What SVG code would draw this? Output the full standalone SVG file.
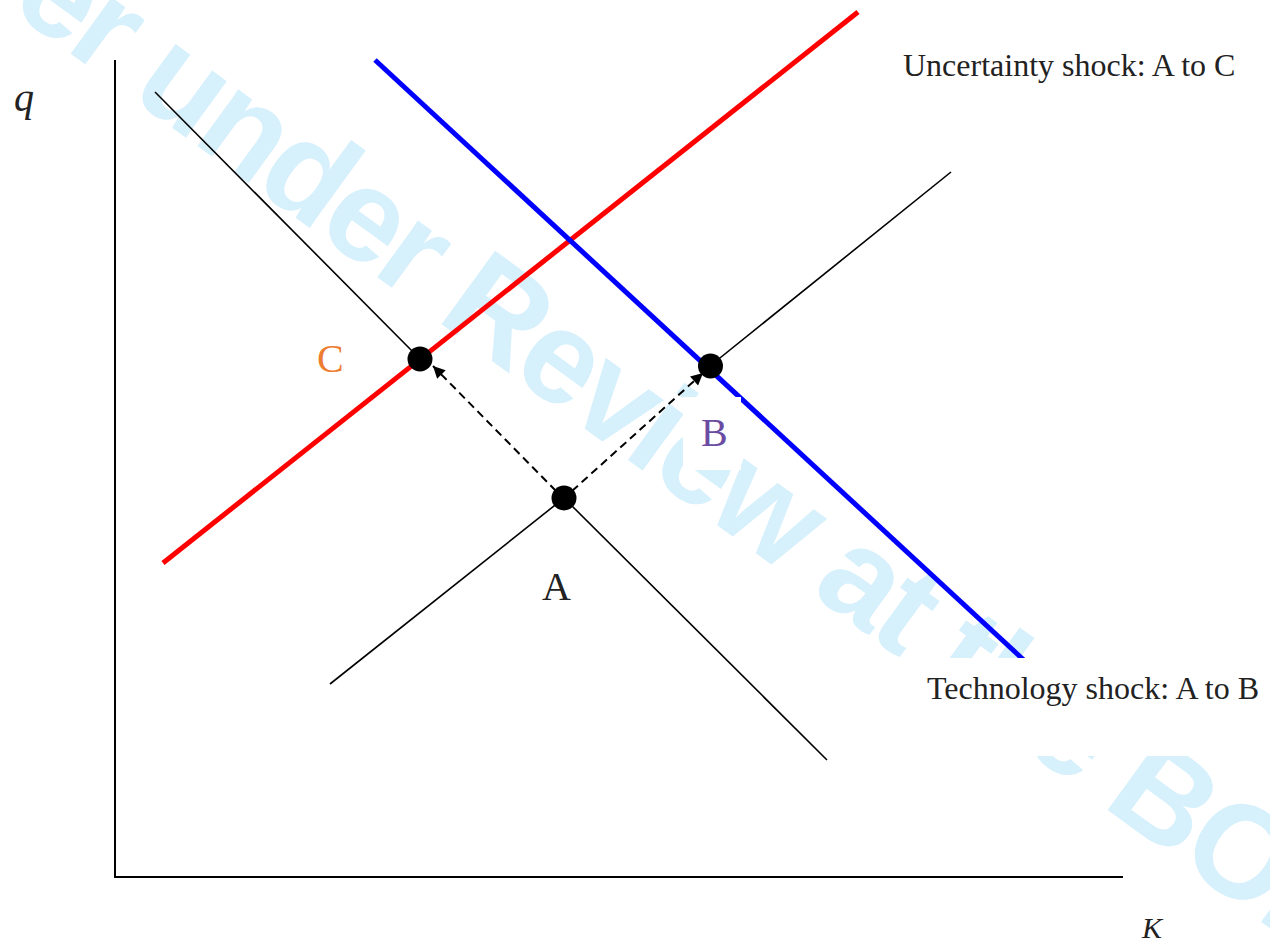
<svg xmlns="http://www.w3.org/2000/svg" width="1270" height="945" viewBox="0 0 1270 945">
<style>
.wm{font-family:"Liberation Sans",Arial,sans-serif;font-weight:bold;font-size:132px;letter-spacing:-4px;fill:#d6f0fc}
.lbl{font-family:"Liberation Serif","Times New Roman",serif;fill:#222}
.ax{stroke:#000;stroke-width:2;fill:none}
.thin{stroke:#000;stroke-width:1.6;fill:none}
.dash{stroke:#000;stroke-width:2;stroke-dasharray:8 5;fill:none}
.dot{fill:#000}
.mask{fill:#fff}
</style>
<defs>
<marker id="ah" viewBox="0 0 10 10" refX="10" refY="5" markerWidth="14" markerHeight="12" markerUnits="userSpaceOnUse" orient="auto">
<path d="M0,0 L10,5 L0,10 z" fill="#000"/>
</marker>
</defs>
<rect width="1270" height="945" fill="#fff"/>
<text class="wm" transform="translate(7.2,7.4) rotate(36.1)">er under Review at the BOE</text>
<g id="axes">
<line class="ax" x1="115" y1="60" x2="115" y2="877"/>
<line class="ax" x1="114" y1="877" x2="1123" y2="877"/>
</g>
<g id="curves">
<line class="thin" x1="155" y1="92" x2="420" y2="359"/>
<line class="thin" x1="564" y1="498" x2="827" y2="760"/>
<line class="thin" x1="330" y1="684" x2="564" y2="498"/>
<line class="thin" x1="710" y1="366" x2="951" y2="172"/>
<line stroke="#ff0000" stroke-width="5" x1="163" y1="563" x2="858" y2="12"/>
<line stroke="#0000ff" stroke-width="5" x1="375" y1="60" x2="1040" y2="675"/>
</g>
<g id="connectors">
<line class="dash" x1="556" y1="491" x2="433" y2="366" marker-end="url(#ah)"/>
<line class="dash" x1="572" y1="491" x2="703" y2="373" marker-end="url(#ah)"/>
</g>
<g id="node-C"><circle class="dot" cx="420" cy="359" r="12.5"/></g>
<g id="node-B"><circle class="dot" cx="710.5" cy="366" r="12.5"/></g>
<g id="node-A"><circle class="dot" cx="564" cy="498" r="12.5"/></g>
<g id="labels">
<rect class="mask" x="683" y="397" width="58" height="73"/>
<rect class="mask" x="900" y="658" width="370" height="98"/>
<text class="lbl" x="317" y="372" font-size="40" style="fill:#ed7d31">C</text>
<text class="lbl" x="701" y="446" font-size="40" style="fill:#6a4ca2">B</text>
<text class="lbl" x="542" y="600" font-size="40">A</text>
<text class="lbl" x="903" y="76" font-size="32">Uncertainty shock: A to C</text>
<text class="lbl" x="927" y="699" font-size="32">Technology shock: A to B</text>
<text class="lbl" x="14" y="111" font-size="40" font-style="italic">q</text>
<text class="lbl" x="1142" y="938" font-size="30" font-style="italic">K</text>
</g>
</svg>
